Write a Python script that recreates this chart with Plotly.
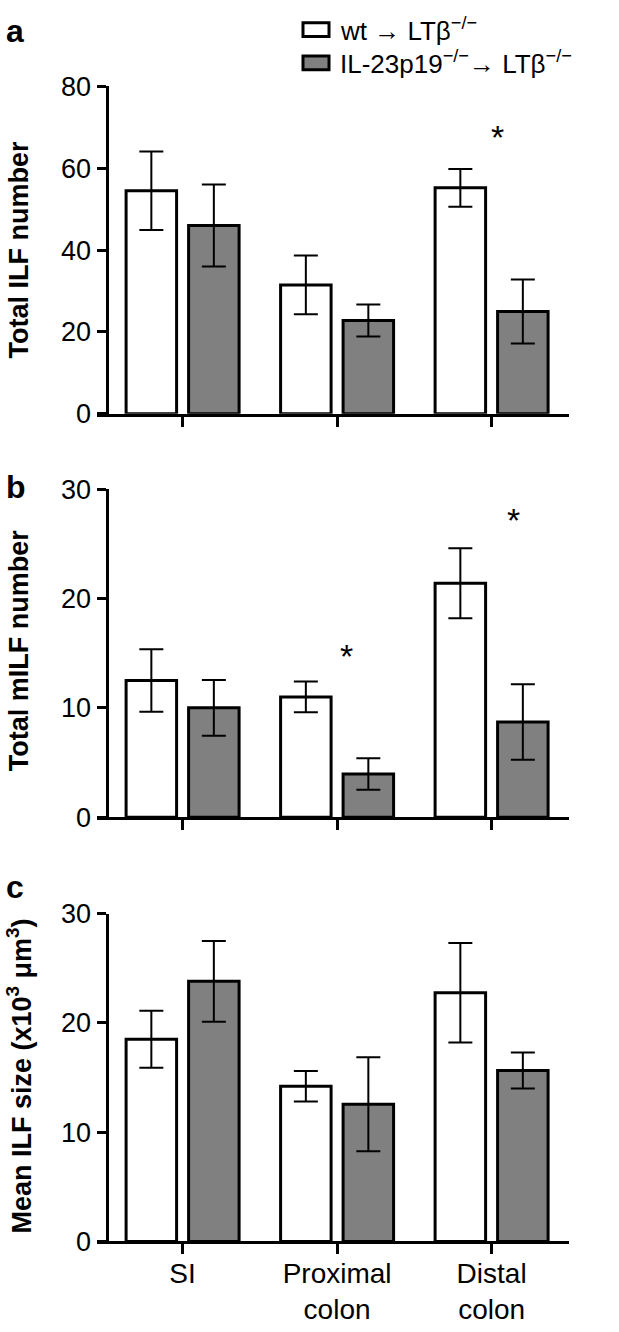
import plotly.graph_objects as go

W, H = 619, 1332

categories = ["SI", "Proximal<br>colon", "Distal<br>colon"]
series_names = ["wt → LTβ<sup>−/−</sup>", "IL-23p19<sup>−/−</sup>→ LTβ<sup>−/−</sup>"]

a_wt = [54.5, 31.5, 55.2]
a_wt_err = [9.6, 7.2, 4.6]
a_il = [46.0, 22.8, 25.0]
a_il_err = [10.0, 3.9, 7.8]

b_wt = [12.5, 11.0, 21.4]
b_wt_err = [2.85, 1.4, 3.2]
b_il = [10.0, 3.95, 8.7]
b_il_err = [2.55, 1.45, 3.45]

c_wt = [18.5, 14.2, 22.75]
c_wt_err = [2.6, 1.4, 4.55]
c_il = [23.8, 12.55, 15.65]
c_il_err = [3.7, 4.3, 1.65]

a_ticks = [0, 20, 40, 60, 80]
b_ticks = [0, 10, 20, 30]
c_ticks = [0, 10, 20, 30]

y_titles = ["Total ILF number", "Total mILF number",
            "Mean ILF size (x10<sup>3</sup> μm<sup>3</sup>)"]
panel_letters = ["a", "b", "c"]

# significance stars: (panel, category position, y value)
stars = [(0, 2.04, 67.6), (1, 1.064, 14.7), (1, 2.144, 27.2)]

WHITE = "#ffffff"
GRAY = "#808080"
FONT = "Liberation Sans, Arial, Helvetica, sans-serif"


def px_x(p):
    return p / W


def px_y(p):
    return 1 - p / H


panels = [
    (a_wt, a_wt_err, a_il, a_il_err, a_ticks, 80, (408, 73)),
    (b_wt, b_wt_err, b_il, b_il_err, b_ticks, 30, (820.7, 485)),
    (c_wt, c_wt_err, c_il, c_il_err, c_ticks, 30, (1254.7, 919.3)),
]

fig = go.Figure()
layout = dict(
    width=W, height=H, autosize=False,
    margin=dict(l=0, r=0, t=0, b=0),
    paper_bgcolor="white", plot_bgcolor="white",
    barmode="group", bargap=0.191, bargroupgap=0.192,
    showlegend=False,
    font=dict(family=FONT, color="black", size=28),
)

xdom = [px_x(97), px_x(569)]
for i, (wt, wte, il, ile, ticks, ymax, (ybot, ytop)) in enumerate(panels):
    sfx = "" if i == 0 else str(i + 1)
    xa, ya = "x" + sfx, "y" + sfx
    for vals, errs, col, nm in [(wt, wte, WHITE, series_names[0]), (il, ile, GRAY, series_names[1])]:
        fig.add_trace(go.Bar(
            x=categories, y=vals, name=nm,
            marker=dict(color=col, line=dict(color="black", width=3)),
            error_y=dict(type="data", array=errs, visible=True, color="black",
                         thickness=2, width=12),
            xaxis=xa, yaxis=ya,
        ))
    layout["xaxis" + sfx] = dict(
        domain=xdom, anchor=ya, type="category",
        categoryorder="array", categoryarray=categories,
        range=[-0.554, 2.501], showline=True, linecolor="black", linewidth=3,
        ticks="outside", ticklen=10, tickwidth=3, tickcolor="black",
        showticklabels=(i == 2), showgrid=False, zeroline=False,
        ticklabelstandoff=-5,
        tickfont=dict(size=28, family=FONT, color="black"),
    )
    layout["yaxis" + sfx] = dict(
        domain=[px_y(ybot), px_y(ytop)], anchor="free", position=px_x(106.5),
        range=[0, ymax], tickvals=ticks, showline=True, linecolor="black",
        linewidth=3, ticks="outside", ticklen=9, tickwidth=3, tickcolor="black",
        showgrid=False, zeroline=False,
        tickfont=dict(size=27, family=FONT, color="black"),
    )

annotations = []
title_centers = [241, 651, 1086]
for t, yc in zip(y_titles, title_centers):
    annotations.append(dict(
        text="<b>" + t + "</b>", xref="paper", yref="paper",
        x=px_x(19), y=px_y(yc), xanchor="center", yanchor="middle",
        textangle=-90, showarrow=False, font=dict(size=27, family=FONT, color="black"),
    ))

letter_pos = [16, 483, 892]
for L, yc in zip(panel_letters, letter_pos):
    annotations.append(dict(
        text="<b>" + L + "</b>", xref="paper", yref="paper",
        x=px_x(4), y=px_y(yc), xanchor="left", yanchor="middle",
        showarrow=False, font=dict(size=32, family=FONT, color="black"),
    ))

for (pi, xi, yv) in stars:
    sfx = "" if pi == 0 else str(pi + 1)
    annotations.append(dict(
        text="*", xref="x" + sfx, yref="y" + sfx, x=xi, y=yv,
        xanchor="center", yanchor="middle", showarrow=False,
        font=dict(size=34, family=FONT, color="black"),
    ))

# legend (drawn manually)
legend_rows = [15, 49]
shapes = []
for nm, col, yc in zip(series_names, [WHITE, GRAY], legend_rows):
    shapes.append(dict(
        type="rect", xref="paper", yref="paper",
        x0=px_x(303), x1=px_x(329), y0=px_y(yc + 7), y1=px_y(yc - 7),
        fillcolor=col, line=dict(color="black", width=3),
    ))
    annotations.append(dict(
        text=nm, xref="paper", yref="paper", x=px_x(338), y=px_y(yc),
        xanchor="left", yanchor="middle", showarrow=False,
        font=dict(size=26, family=FONT, color="black"),
    ))

layout["annotations"] = annotations
layout["shapes"] = shapes
fig.update_layout(**layout)

fig.write_html("out.html", config={"displayModeBar": False},
               post_script="document.body.style.margin='0';")
